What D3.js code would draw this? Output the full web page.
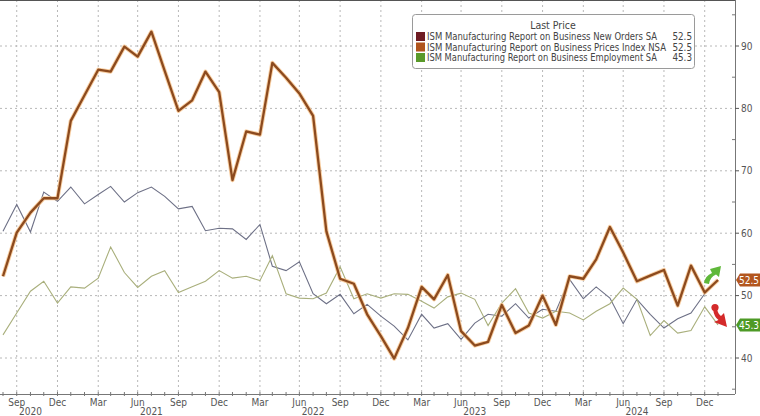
<!DOCTYPE html>
<html><head><meta charset="utf-8">
<script src="https://cdn.jsdelivr.net/npm/d3@7"></script>
<style>
html,body{margin:0;padding:0;background:#fff;}
svg{display:block;font-family:"DejaVu Sans Condensed","DejaVu Sans",sans-serif;}
</style></head>
<body><svg id="c" width="760" height="416"></svg>
<script>
const months = ["2020-07","2020-08","2020-09","2020-10","2020-11","2020-12",
"2021-01","2021-02","2021-03","2021-04","2021-05","2021-06","2021-07","2021-08","2021-09","2021-10","2021-11","2021-12",
"2022-01","2022-02","2022-03","2022-04","2022-05","2022-06","2022-07","2022-08","2022-09","2022-10","2022-11","2022-12",
"2023-01","2023-02","2023-03","2023-04","2023-05","2023-06","2023-07","2023-08","2023-09","2023-10","2023-11","2023-12",
"2024-01","2024-02","2024-03","2024-04","2024-05","2024-06","2024-07","2024-08","2024-09","2024-10","2024-11","2024-12"];

const newOrders = [60.3,64.6,60.2,66.6,65.1,67.4,
64.7,66.2,67.5,65.0,66.5,67.4,65.9,63.9,64.3,60.4,60.8,60.7,
59.0,61.4,54.7,54.0,55.4,50.3,48.7,50.2,47.1,48.6,46.7,45.1,
42.9,47.0,44.8,45.5,43.0,45.6,47.0,46.7,48.7,46.4,47.8,47.5,
52.6,49.5,51.4,49.6,45.5,49.4,47.0,44.8,46.3,47.2,50.3,52.5];

const prices = [53.1,60.1,63.3,65.6,65.6,78.0,
82.1,86.2,85.9,89.9,88.3,92.3,86.0,79.6,81.3,85.9,82.6,68.5,
76.3,75.8,87.3,84.9,82.4,78.8,60.3,52.7,51.9,47.0,43.5,39.9,
44.8,51.4,49.4,53.3,44.3,42.0,42.6,48.5,44.0,45.2,50.0,45.3,
53.1,52.7,55.8,61.0,56.9,52.3,53.2,54.1,48.4,54.8,50.5,52.5];

const employment = [43.7,47.2,50.7,52.3,48.8,51.4,
51.2,52.8,57.8,53.7,51.3,53.1,54.0,50.5,51.4,52.3,54.0,52.8,
53.1,52.4,56.4,50.3,49.6,49.5,50.4,54.6,49.5,50.3,49.6,50.3,
50.2,49.1,48.0,49.8,50.4,49.4,45.2,48.8,51.1,47.2,46.4,47.5,
47.2,46.1,47.5,48.7,51.2,49.4,43.6,46.0,44.0,44.4,48.2,45.3];

const seriesNames = ["ISM Manufacturing Report on Business New Orders SA",
"ISM Manufacturing Report on Business Prices Index NSA",
"ISM Manufacturing Report on Business Employment SA"];
const lastValues = ["52.5","52.5","45.3"];
const yTicks = [40,50,60,70,80,90];
const quarterLabels = {8:"Sep",11:"Dec",2:"Mar",5:"Jun"};
const yearLabels = [["2020","2020-09"],["2021","2021-06"],["2022","2022-06"],["2023","2023-06"],["2024","2024-06"]];

const parse = d3.timeParse("%Y-%m");
const dates = months.map(parse);
const svg = d3.select("#c");

const plotL = 0, plotR = 735, plotT = 0, plotB = 394;
const x = d3.scaleTime().domain([dates[0], dates[dates.length-1]]).range([3, 718]);
const y = d3.scaleLinear().domain([40, 90]).range([358, 46]);

// gridlines
const gridCol = "#b8b8b8";
const allMonths = d3.timeMonth.range(parse("2020-07"), parse("2025-01"));
const quarterMonths = allMonths.filter(d => quarterLabels[d.getMonth()+1]);
svg.append("g").selectAll("line").data(quarterMonths).join("line")
  .attr("x1", d => x(d)).attr("x2", d => x(d)).attr("y1", plotT).attr("y2", plotB)
  .attr("stroke", gridCol).attr("stroke-width", 1).attr("stroke-dasharray", "2,3");
svg.append("g").selectAll("line").data(yTicks).join("line")
  .attr("x1", plotL).attr("x2", plotR).attr("y1", d => y(d)).attr("y2", d => y(d))
  .attr("stroke", gridCol).attr("stroke-width", 1).attr("stroke-dasharray", "2,3");

// top frame line
svg.append("line").attr("x1",0).attr("x2",plotR).attr("y1",0.5).attr("y2",0.5).attr("stroke","#555").attr("stroke-width",1);

// lines
const line = vals => d3.line().x((d,i) => x(dates[i])).y(d => y(d))(vals);
svg.append("path").attr("d", line(newOrders)).attr("fill","none").attr("stroke","#6d7086").attr("stroke-width",1.1);
svg.append("path").attr("d", line(employment)).attr("fill","none").attr("stroke","#a9af7c").attr("stroke-width",1.1);
svg.append("path").attr("d", line(prices)).attr("fill","none").attr("stroke","#f6c28a").attr("stroke-width",4.2).attr("stroke-linejoin","round").attr("opacity",0.8);
svg.append("path").attr("d", line(prices)).attr("fill","none").attr("stroke","#8c4a1e").attr("stroke-width",2.3).attr("stroke-linejoin","round");

// right axis
const yAxis = svg.append("g");
yAxis.append("line").attr("x1",plotR+0.5).attr("x2",plotR+0.5).attr("y1",0).attr("y2",plotB).attr("stroke","#777");
const minorY = d3.range(35, 96, 5).filter(v => yTicks.indexOf(v) < 0);
yAxis.selectAll(".mn").data(minorY).join("line")
  .attr("x1",plotR-3).attr("x2",plotR).attr("y1",d=>y(d)).attr("y2",d=>y(d)).attr("stroke","#777");
yAxis.selectAll(".mj").data(yTicks).join("line")
  .attr("x1",plotR).attr("x2",plotR+4).attr("y1",d=>y(d)).attr("y2",d=>y(d)).attr("stroke","#555");
yAxis.selectAll("text").data(yTicks).join("text")
  .attr("x", plotR+6).attr("y", d => y(d)+3.5).attr("font-size",10).attr("fill","#555").text(d => d);

// bottom axis
const xAxis = svg.append("g");
xAxis.append("line").attr("x1",0).attr("x2",plotR).attr("y1",plotB+0.5).attr("y2",plotB+0.5).attr("stroke","#777");
xAxis.selectAll(".mt").data(allMonths).join("line")
  .attr("x1",d=>x(d)).attr("x2",d=>x(d)).attr("y1",plotB-2).attr("y2",plotB+2).attr("stroke","#777");
xAxis.selectAll(".ql").data(quarterMonths).join("text")
  .attr("x", d => x(d)).attr("y", 405.5).attr("text-anchor","middle").attr("font-size",10).attr("fill","#555")
  .text(d => quarterLabels[d.getMonth()+1]);
xAxis.selectAll(".yl").data(yearLabels).join("text")
  .attr("x", d => x(parse(d[1]))).attr("y", 415).attr("text-anchor","middle").attr("font-size",10).attr("fill","#555")
  .text(d => d[0]);
const decs = quarterMonths.filter(d => d.getMonth() === 11);
xAxis.selectAll(".ys").data(decs).join("line")
  .attr("x1",d=>x(d)).attr("x2",d=>x(d)).attr("y1",408).attr("y2",416).attr("stroke","#888");

// legend
const lg = svg.append("g");
lg.append("rect").attr("x",412.5).attr("y",14.5).attr("width",282).attr("height",54).attr("rx",3)
  .attr("fill","#fff").attr("stroke","#9a9a9a");
lg.append("text").attr("x",553).attr("y",28.5).attr("text-anchor","middle").attr("font-size",10.5).attr("fill","#444").text("Last Price");
const swCols = ["#6e1c22","#b0541c","#5a9a2a"];
const rowY = [36.5, 47, 57.5];
const rowLen = [230, 239, 230];
seriesNames.forEach((n,i) => {
  lg.append("rect").attr("x",416).attr("y",rowY[i]-4.5).attr("width",9).attr("height",9).attr("fill",swCols[i]);
  lg.append("text").attr("x",427).attr("y",rowY[i]+3.5).attr("font-size",9.8).attr("fill","#444")
    .attr("textLength", rowLen[i]).attr("lengthAdjust","spacingAndGlyphs").text(n);
  lg.append("text").attr("x",692).attr("y",rowY[i]+3.5).attr("text-anchor","end").attr("font-size",9.8).attr("fill","#444").text(lastValues[i]);
});

// arrows
svg.append("path").attr("d","M704,283 Q705,276 712,273 L710,269 L721,266 L719,277 L716,274.5 Q710,277 709,284 Z")
  .attr("fill","#5fb83a");
svg.append("circle").attr("cx",715).attr("cy",307.5).attr("r",3.6).attr("fill","#d42a2a");
svg.append("path").attr("d","M713,309 L717,309 Q718,314 721,316 L724,313 L727,327 L714,322 L718.5,320 Q714,317 713,309 Z")
  .attr("fill","#d42a2a");

// value tags
function tag(val, color, yc){
  const g = svg.append("g");
  g.append("path").attr("d",`M736,${yc} L740,${yc-6.5} L760,${yc-6.5} L760,${yc+6.5} L740,${yc+6.5} Z`).attr("fill",color);
  g.append("text").attr("x",749).attr("y",yc+3.6).attr("text-anchor","middle").attr("font-size",10).attr("fill","#fff").text(val);
}
tag(lastValues[1], "#b3561e", y(52.5));
tag(lastValues[2], "#4e9a26", y(45.3));
</script></body></html>
